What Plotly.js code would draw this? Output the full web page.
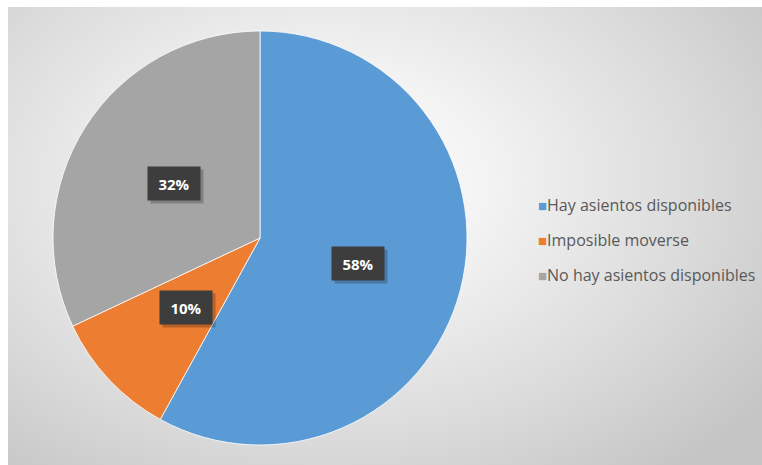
<!DOCTYPE html>
<html>
<head>
<meta charset="utf-8">
<script src="https://cdn.plot.ly/plotly-3.0.1.min.js"></script>
<style>
  html, body { margin: 0; padding: 0; background: #ffffff; }
  #wrap { position: relative; width: 762px; height: 465px; overflow: hidden; }
  #bg { position: absolute; left: 8px; top: 7px; right: 0; bottom: 0;
        background: radial-gradient(ellipse 72% 82% at 42% 38%, #ffffff 0%, #f3f3f3 30%, #dadada 70%, #c5c5c5 100%); }
  #chart { position: absolute; left: 0; top: 0; width: 762px; height: 465px; }
</style>
</head>
<body>
<div id="wrap">
  <div id="bg"></div>
  <div id="chart"></div>
</div>
<script>
const categories = ["Hay asientos disponibles", "Imposible moverse", "No hay asientos disponibles"];
const values = [58, 10, 32];
const colors = ["#5B9BD5", "#ED7D31", "#A5A5A5"];

const W = 762, H = 465;
const cx = 260, cy = 238, R = 207;
const domX = [(cx - R) / W, (cx + R) / W];
const domY = [1 - (cy + R) / H, 1 - (cy - R) / H];

const total = values.reduce((a, b) => a + b, 0);
const annotations = [];
let cum = 0;
values.forEach((v, i) => {
  const mid = (cum + v / 2) / total * 2 * Math.PI;
  cum += v;
  const r = 0.49 * R;
  const px = cx + r * Math.sin(mid);
  const py = cy - r * Math.cos(mid);
  const txt = Math.round(v / total * 100) + "%";
  // shadow box
  annotations.push({
    xref: "paper", yref: "paper", x: px / W, y: 1 - py / H,
    xanchor: "center", yanchor: "middle", showarrow: false,
    text: "&nbsp;", width: 50, height: 31, xshift: 3, yshift: -3,
    bgcolor: "rgba(0,0,0,0.22)", font: {family: "Open Sans", size: 15, color: "rgba(0,0,0,0)"}
  });
  annotations.push({
    xref: "paper", yref: "paper", x: px / W, y: 1 - py / H,
    xanchor: "center", yanchor: "middle", showarrow: false,
    text: "<b>" + txt + "</b>", width: 50, height: 31,
    bgcolor: "#3d3d3d", font: {family: "Open Sans", size: 15, color: "#ffffff"}
  });
});

// legend entries
const legendY = [205, 240, 275];
categories.forEach((c, i) => {
  annotations.push({
    xref: "paper", yref: "paper", x: 536 / W, y: 1 - legendY[i] / H,
    xanchor: "left", yanchor: "middle", showarrow: false,
    text: '<span style="color:' + colors[i] + ';font-size:15px">■</span>' + c,
    font: {family: "Open Sans", size: 16, color: "#595959"}
  });
});

const data = [{
  type: "pie",
  labels: categories,
  values: values,
  sort: false,
  direction: "clockwise",
  rotation: 0,
  textinfo: "none",
  hoverinfo: "label+percent",
  marker: {colors: colors, line: {color: "#ffffff", width: 0.8}},
  domain: {x: domX, y: domY}
}];

const layout = {
  width: W, height: H,
  margin: {l: 0, r: 0, t: 0, b: 0},
  paper_bgcolor: "rgba(0,0,0,0)",
  plot_bgcolor: "rgba(0,0,0,0)",
  showlegend: false,
  annotations: annotations
};

Plotly.newPlot("chart", data, layout, {displayModeBar: false, staticPlot: true});
</script>
</body>
</html>
